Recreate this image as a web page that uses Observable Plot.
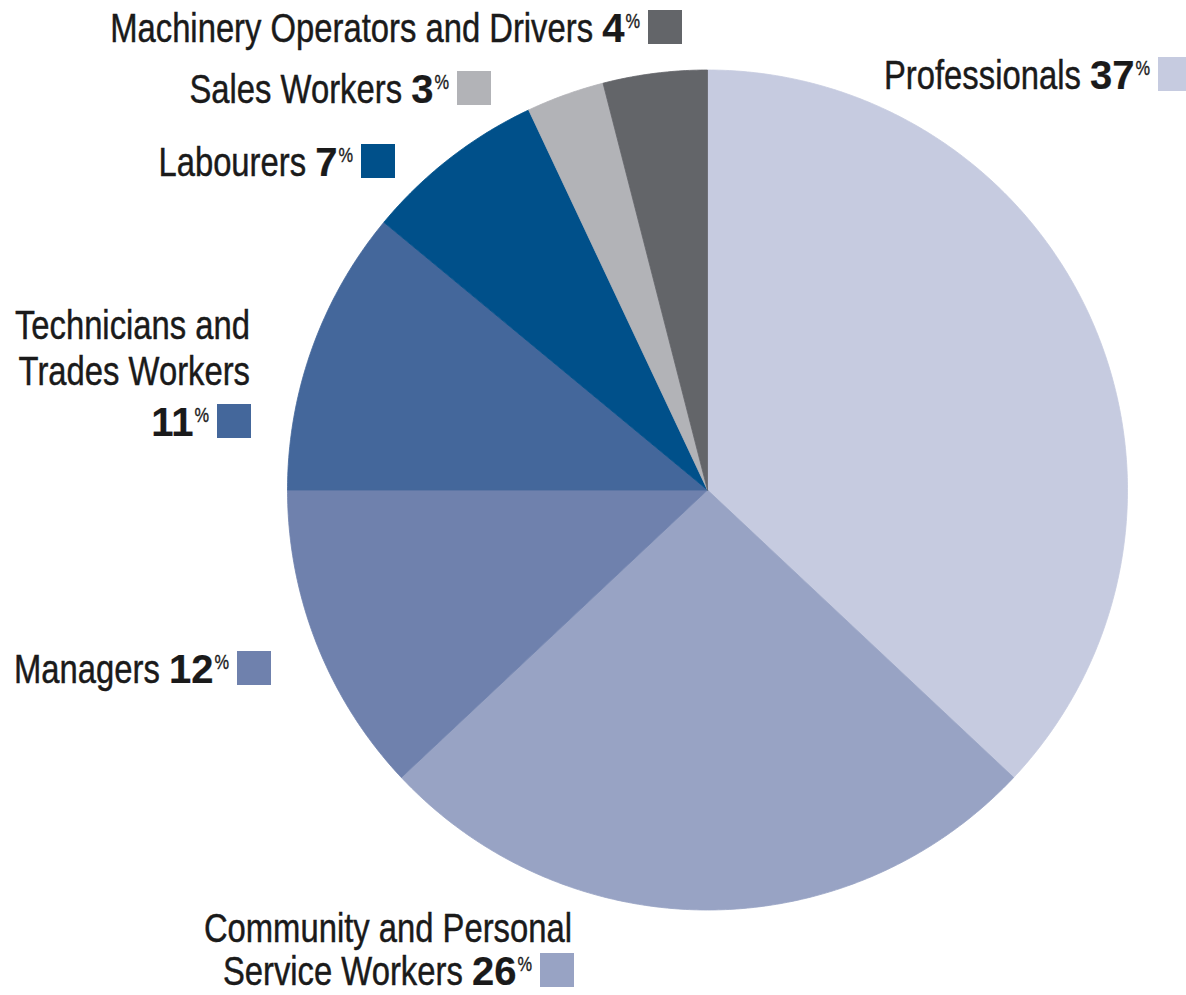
<!DOCTYPE html>
<html><head><meta charset="utf-8">
<script src="https://cdn.jsdelivr.net/npm/d3@7"></script>
<script src="https://cdn.jsdelivr.net/npm/@observablehq/plot@0.6"></script>
<style>
body{margin:0;background:#fff}
#chart{width:1186px;height:995px;overflow:hidden;position:relative}
</style>
</head><body><div id="chart"></div>
<script>
// ---- data ----
const categories = ["Professionals","Community and Personal Service Workers","Managers","Technicians and Trades Workers","Labourers","Sales Workers","Machinery Operators and Drivers"];
const values = [37, 26, 12, 11, 7, 3, 4];
const colors = ["#c6cbe0","#98a3c4","#6f81ad","#44679b","#00508a","#b2b3b7","#636569"];
const labelLines = [["Professionals"],["Community and Personal","Service Workers"],["Managers"],["Technicians and","Trades Workers",""],["Labourers"],["Sales Workers"],["Machinery Operators and Drivers"]];

// ---- layout ----
const W = 1186, H = 995, cx = 707, cy = 489.5, R = 420;
const labelLayout = [
  {swatchX: 1158, baselines: [89]},
  {swatchX: 540, baselines: [942, 985], lineRight: 572},
  {swatchX: 237, baselines: [683]},
  {swatchX: 217, baselines: [339, 385, 436], lineRight: 250},
  {swatchX: 361, baselines: [176]},
  {swatchX: 457, baselines: [103]},
  {swatchX: 648, baselines: [42]}
];
const SW = 34, GAP = 8, FS = 40, SX = 0.82, NX = 1.0, PFS = 20;

// ---- pie geometry from data ----
const arcs = d3.pie().sort(null).value(d => d)(values);
const rows = [];
arcs.forEach((s, i) => {
  const cat = categories[i];
  rows.push({cat, x: 0, y: 0});
  const n = Math.max(2, Math.ceil((s.endAngle - s.startAngle) / (Math.PI / 360)));
  for (let k = 0; k <= n; k++) {
    const a = s.startAngle + (s.endAngle - s.startAngle) * k / n;
    rows.push({cat, x: Math.sin(a), y: Math.cos(a)});
  }
  rows.push({cat, x: 0, y: 0});
});

const plot = Plot.plot({
  width: W, height: H, margin: 0,
  style: {background: "#fff"},
  x: {domain: [-1, 1], range: [cx - R, cx + R], axis: null},
  y: {domain: [-1, 1], range: [cy + R, cy - R], axis: null},
  color: {domain: categories, range: colors},
  marks: [
    Plot.line(rows, {x: "x", y: "y", z: "cat", fill: "cat", stroke: "cat", strokeWidth: 0.8, curve: "linear"})
  ]
});
document.getElementById("chart").appendChild(plot);

// ---- labels & swatches ----
const color = plot.scale("color");
const ink = "#1a1a1a";
const g = d3.select(plot).append("g")
  .attr("font-family", "'Liberation Sans', Arial, sans-serif")
  .attr("font-size", FS)
  .attr("fill", ink);
function addText(str, right, y, sx, opts = {}) {
  const t = g.append("text")
    .attr("text-anchor", "end")
    .attr("transform", `translate(${right},${y}) scale(${sx},1)`)
    .attr("stroke", ink).attr("stroke-width", opts.sw ?? 0.45)
    .text(str);
  if (opts.bold) t.attr("font-weight", "bold");
  if (opts.size) t.attr("font-size", opts.size);
  return t.node().getComputedTextLength() * sx;
}
const spaceW = 0.278 * FS * SX;
categories.forEach((cat, i) => {
  const L = labelLayout[i];
  const lines = labelLines[i];
  const textRight = L.swatchX - GAP;
  lines.forEach((line, j) => {
    const b = L.baselines[j];
    if (j < lines.length - 1) { addText(line, L.lineRight, b, SX); return; }
    const pw = addText("%", textRight, b - 14, SX, {size: PFS, sw: 0.35});
    const nw = addText(String(values[i]), textRight - pw - 1, b, NX, {bold: true, sw: 0.2});
    if (line) addText(line, textRight - pw - 1 - nw - spaceW, b, SX);
  });
  const lastB = L.baselines[L.baselines.length - 1];
  g.append("rect")
    .attr("x", L.swatchX).attr("y", lastB - 32)
    .attr("width", SW).attr("height", SW)
    .attr("fill", color.apply(cat));
});
</script>
</body></html>
